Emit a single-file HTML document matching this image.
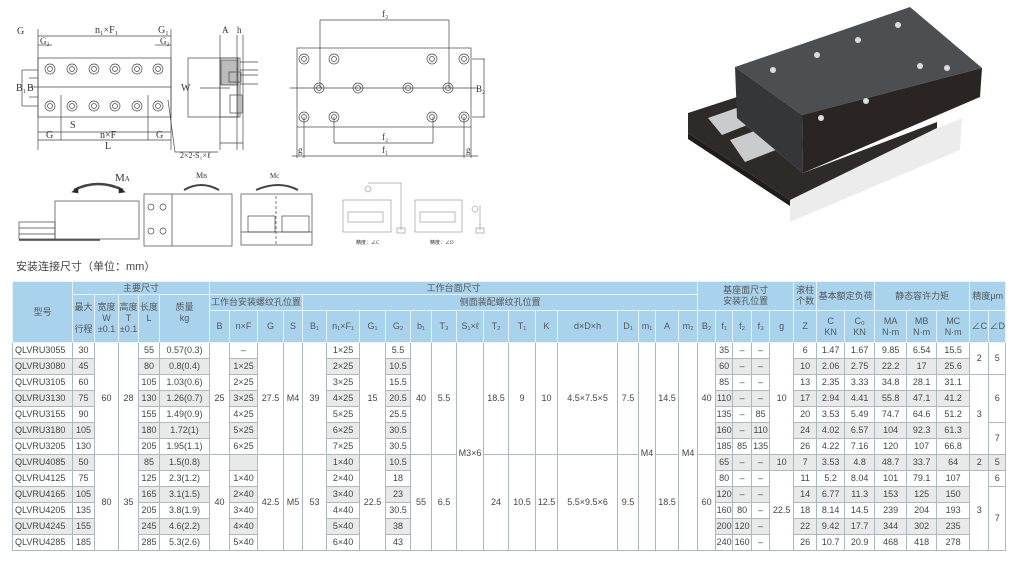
<!DOCTYPE html>
<html><head><meta charset="utf-8">
<style>
body{margin:0;width:1024px;height:561px;background:#fff;position:relative;overflow:hidden;font-family:"Liberation Sans","Noto Sans CJK SC",sans-serif;}
svg{position:absolute;left:0;top:0}
.title{position:absolute;left:16px;top:258px;font-size:11px;color:#444}
table{position:absolute;left:12px;top:281px;border-collapse:collapse;table-layout:fixed;width:993px;font-size:9px;color:#444}
td{border:1px solid #a9b9c4;padding:0;text-align:center;white-space:nowrap;overflow:hidden;height:15px;line-height:15px;background:#fff}
thead td{background:#a9d3ec;border-color:#e6f2f8;line-height:11px;color:#555}
thead tr.r1 td{height:12px}
thead tr.r2 td{height:15px}
thead tr.r3 td{height:31px}
tr.g td{background:#e9e9e9}
tr.g td[rowspan]{background:#fff}
td.l{text-align:left;padding-left:2px}
td.mid{padding-top:14px}
</style></head><body>
<svg width="1024" height="561" viewBox="0 0 1024 561" font-family="Liberation Serif, serif" font-size="10" fill="none" stroke="#444" stroke-width="0.7">
<!-- drawing 1 -->
<rect x="38" y="58" width="133" height="59"/>
<line x1="38" y1="29" x2="38" y2="150"/><line x1="171" y1="29" x2="171" y2="150"/>
<line x1="38" y1="36" x2="171" y2="36"/>
<line x1="38" y1="45" x2="52" y2="45"/><line x1="155" y1="45" x2="171" y2="45"/>
<line x1="30" y1="87" x2="171" y2="87"/>
<line x1="22" y1="70" x2="38" y2="70"/><line x1="22" y1="106" x2="38" y2="106"/><line x1="22" y1="70" x2="22" y2="106"/>
<line x1="29" y1="78" x2="38" y2="78"/><line x1="29" y1="97" x2="38" y2="97"/>
<line x1="38" y1="140" x2="171" y2="140"/><line x1="61" y1="95" x2="61" y2="140"/><line x1="148" y1="95" x2="148" y2="140"/>
<line x1="38" y1="132" x2="171" y2="132"/>
<g>
<circle cx="50" cy="69" r="5"/><circle cx="72" cy="69" r="5"/><circle cx="94" cy="69" r="5"/><circle cx="115" cy="69" r="5"/><circle cx="137" cy="69" r="5"/><circle cx="158" cy="69" r="5"/>
<circle cx="50" cy="106" r="5"/><circle cx="72" cy="106" r="5"/><circle cx="94" cy="106" r="5"/><circle cx="115" cy="106" r="5"/><circle cx="137" cy="106" r="5"/><circle cx="158" cy="106" r="5"/>
<circle cx="50" cy="69" r="2.5"/><circle cx="72" cy="69" r="2.5"/><circle cx="94" cy="69" r="2.5"/><circle cx="115" cy="69" r="2.5"/><circle cx="137" cy="69" r="2.5"/><circle cx="158" cy="69" r="2.5"/>
<circle cx="50" cy="106" r="2.5"/><circle cx="72" cy="106" r="2.5"/><circle cx="94" cy="106" r="2.5"/><circle cx="115" cy="106" r="2.5"/><circle cx="137" cy="106" r="2.5"/><circle cx="158" cy="106" r="2.5"/>
</g>
<line x1="175" y1="152" x2="218" y2="152"/><line x1="175" y1="152" x2="168" y2="100"/>
<!-- drawing 2 -->
<rect x="188" y="58" width="50" height="59"/>
<rect x="220" y="58" width="20" height="59"/><rect x="221" y="60" width="17" height="25" fill="#bbb"/>
<rect x="229" y="72" width="12" height="10"/><rect x="230" y="95" width="12" height="18"/>
<line x1="220" y1="35" x2="220" y2="150"/><line x1="237" y1="35" x2="237" y2="150"/><line x1="243" y1="35" x2="243" y2="150"/>
<line x1="220" y1="143" x2="243" y2="143"/><line x1="200" y1="88" x2="230" y2="88"/>
<line x1="240" y1="62" x2="258" y2="62"/><line x1="240" y1="70" x2="258" y2="70"/><line x1="240" y1="75" x2="258" y2="75"/><line x1="240" y1="84" x2="258" y2="84"/>
<!-- drawing 3 -->
<rect x="297" y="48" width="174" height="79"/>
<line x1="320" y1="20" x2="449" y2="20"/><line x1="320" y1="20" x2="320" y2="88"/><line x1="449" y1="20" x2="449" y2="88"/>
<line x1="290" y1="88" x2="478" y2="88"/>
<line x1="472" y1="59" x2="485" y2="59"/><line x1="472" y1="117" x2="485" y2="117"/><line x1="484" y1="59" x2="484" y2="117"/>
<line x1="334" y1="117" x2="334" y2="143"/><line x1="433" y1="117" x2="433" y2="143"/><line x1="334" y1="143" x2="433" y2="143"/>
<line x1="292" y1="156" x2="478" y2="156"/><line x1="304" y1="117" x2="304" y2="158"/><line x1="464" y1="117" x2="464" y2="158"/>
<line x1="297" y1="127" x2="297" y2="158"/><line x1="471" y1="127" x2="471" y2="158"/>
<g>
<circle cx="304" cy="59" r="5"/><circle cx="334" cy="59" r="5"/><circle cx="432" cy="59" r="5"/><circle cx="464" cy="59" r="5"/>
<circle cx="319" cy="88" r="5"/><circle cx="358" cy="88" r="5"/><circle cx="408" cy="88" r="5"/><circle cx="448" cy="88" r="5"/>
<circle cx="304" cy="117" r="5"/><circle cx="334" cy="117" r="5"/><circle cx="432" cy="117" r="5"/><circle cx="464" cy="117" r="5"/>
<circle cx="304" cy="59" r="2.5"/><circle cx="334" cy="59" r="2.5"/><circle cx="432" cy="59" r="2.5"/><circle cx="464" cy="59" r="2.5"/>
<circle cx="319" cy="88" r="2.5"/><circle cx="358" cy="88" r="2.5"/><circle cx="408" cy="88" r="2.5"/><circle cx="448" cy="88" r="2.5"/>
<circle cx="304" cy="117" r="2.5"/><circle cx="334" cy="117" r="2.5"/><circle cx="432" cy="117" r="2.5"/><circle cx="464" cy="117" r="2.5"/>
</g>
<!-- bottom drawings -->
<path d="M74 190 Q98 178 123 190" stroke-width="2.5"/><path d="M72 192 l6 -5 l0 6z M125 192 l-6 -5 l0 6z" fill="#222"/>
<rect x="55" y="201" width="84" height="38"/>
<rect x="19" y="222" width="36" height="17"/><line x1="19" y1="228" x2="55" y2="228"/><line x1="19" y1="234" x2="55" y2="234"/><line x1="19" y1="240" x2="100" y2="240" stroke-width="1.5"/>
<path d="M184 190 Q201 180 219 190" stroke-width="2"/>
<rect x="144" y="194" width="88" height="52"/><line x1="172" y1="194" x2="172" y2="246"/>
<circle cx="151" cy="207" r="3"/><circle cx="163" cy="207" r="3"/><circle cx="151" cy="231" r="3"/><circle cx="163" cy="231" r="3"/>
<path d="M256 190 Q279 180 298 190" stroke-width="2"/>
<rect x="241" y="194" width="71" height="51"/><line x1="241" y1="232" x2="312" y2="232"/>
<rect x="248" y="216" width="27" height="16"/><rect x="282" y="216" width="27" height="16"/><line x1="276" y1="196" x2="276" y2="245" stroke-dasharray="3 2"/>
<g stroke="#777" stroke-width="0.5">
<rect x="343" y="200" width="48" height="32"/><rect x="348" y="212" width="35" height="10"/>
<line x1="368" y1="183" x2="401" y2="183"/><line x1="401" y1="183" x2="401" y2="230"/><rect x="397" y="228" width="8" height="5"/><circle cx="368" cy="189" r="3"/>
<rect x="415" y="200" width="47" height="32"/><rect x="420" y="212" width="35" height="10"/>
<circle cx="475" cy="209" r="3"/><line x1="480" y1="205" x2="480" y2="230"/><rect x="476" y="228" width="8" height="5"/>
</g>
<g fill="#333" stroke="none">
<text x="17" y="34">G</text><text x="95" y="33">n₁×F₁</text><text x="158" y="33">G₁</text>
<text x="40" y="44" font-size="9">G₂</text><text x="160" y="44" font-size="9">G₂</text>
<text x="16" y="91">B₁</text><text x="27" y="91">B</text><text x="70" y="128">S</text>
<text x="46" y="138">G</text><text x="100" y="138">n×F</text><text x="156" y="138">G</text><text x="105" y="149">L</text>
<text x="180" y="158" font-size="8">2×2-S₁×ℓ</text>
<text x="181" y="91">W</text><text x="222" y="33" font-size="9">A</text><text x="237" y="33" font-size="9">h</text>
<text x="382" y="17" font-size="9">f₃</text><text x="476" y="92" font-size="9">B₂</text>
<text x="382" y="140" font-size="9">f₂</text><text x="382" y="153" font-size="9">f₁</text>
<text x="298" y="153" font-size="9">g</text><text x="466" y="153" font-size="9">g</text>
<text x="115" y="181" font-size="11">M<tspan font-size="7">A</tspan></text>
<text x="196" y="178" font-size="8">M<tspan font-size="6">B</tspan></text>
<text x="270" y="178" font-size="7">Mc</text>
<text x="356" y="244" font-size="5">精度：∠C</text><text x="430" y="244" font-size="5">精度：∠D</text>
</g>
<!-- photo -->
<polygon points="690,135 790,200 790,222 960,150 962,118 790,190" fill="#ececec" stroke="none"/>
<polygon points="688,113 737,97 737,118 803,173 937,122 937,128 790,200 688,133" fill="#2e2a28" stroke="none"/>
<polygon points="688,133 790,200 790,206 688,139" fill="#201c1a" stroke="none"/>
<polygon points="708,118 745,105 760,120 722,135" fill="#c8cccc" stroke="none"/>
<polygon points="730,140 768,126 786,146 745,162" fill="#c8cccc" stroke="none"/>
<polygon points="735,67 910,7 982,68 802,115" fill="#4b4f52" stroke="none"/>
<polygon points="735,67 802,115 803,173 737,118" fill="#34363a" stroke="none"/>
<polygon points="802,115 982,68 980,97 803,173" fill="#2a2523" stroke="none"/>
<g fill="#ddd" stroke="none">
<circle cx="773" cy="70" r="3"/><circle cx="817" cy="55" r="3"/><circle cx="858" cy="40" r="3"/><circle cx="898" cy="25" r="3"/>
<circle cx="920" cy="66" r="3"/><circle cx="947" cy="68" r="3"/><circle cx="866" cy="101" r="3"/><circle cx="821" cy="118" r="3"/>
</g>
</svg>
<div class="title">安装连接尺寸（单位：mm）</div>
<table>
<colgroup>
<col style="width:60px"><col style="width:22px"><col style="width:24px"><col style="width:20px"><col style="width:21px"><col style="width:50px"><col style="width:20px"><col style="width:28px"><col style="width:26px"><col style="width:19px"><col style="width:24px"><col style="width:33px"><col style="width:26px"><col style="width:25px"><col style="width:21px"><col style="width:25px"><col style="width:27px"><col style="width:25px"><col style="width:27px"><col style="width:22px"><col style="width:60px"><col style="width:21px"><col style="width:17px"><col style="width:23px"><col style="width:19px"><col style="width:18px"><col style="width:17px"><col style="width:19px"><col style="width:18px"><col style="width:24px"><col style="width:23px"><col style="width:28px"><col style="width:30px"><col style="width:32px"><col style="width:30px"><col style="width:33px"><col style="width:19px"><col style="width:17px">
</colgroup>
<thead>
<tr class="r1"><td rowspan="3">型号</td><td colspan="5">主要尺寸</td><td colspan="19">工作台面尺寸</td><td colspan="5" rowspan="2">基座面尺寸<br>安装孔位置</td><td rowspan="2">滚柱<br>个数</td><td colspan="2" rowspan="2">基本额定负荷</td><td colspan="3" rowspan="2">静态容许力矩</td><td colspan="2" rowspan="2">精度μm</td></tr>
<tr class="r2"><td rowspan="2">最大<br><br>行程</td><td rowspan="2">宽度<br>W<br>±0.1</td><td rowspan="2">高度<br>T<br>±0.1</td><td rowspan="2">长度<br>L<br>&nbsp;</td><td rowspan="2">质量<br>kg<br>&nbsp;</td><td colspan="4">工作台安装螺纹孔位置</td><td colspan="15">侧面装配螺纹孔位置</td></tr>
<tr class="r3"><td>B</td><td>n×F</td><td>G</td><td>S</td><td>B₁</td><td>n₁×F₁</td><td>G₁</td><td>G₂</td><td>b₁</td><td>T₃</td><td>S₁×ℓ</td><td>T₂</td><td>T₁</td><td>K</td><td>d×D×h</td><td>D₁</td><td>m₁</td><td>A</td><td>m₂</td><td>B₂</td><td>f₁</td><td>f₂</td><td>f₃</td><td>g</td><td>Z</td><td>C<br>KN</td><td>C₀<br>KN</td><td>MA<br>N·m</td><td>MB<br>N·m</td><td>MC<br>N·m</td><td>∠C</td><td>∠D</td></tr>
</thead>
<tbody>
<tr><td class="l">QLVRU3055</td><td>30</td><td rowspan="7">60</td><td rowspan="7">28</td><td>55</td><td>0.57(0.3)</td><td rowspan="7">25</td><td>–</td><td rowspan="7">27.5</td><td rowspan="7">M4</td><td rowspan="7">39</td><td>1×25</td><td rowspan="7">15</td><td>5.5</td><td rowspan="7">40</td><td rowspan="7">5.5</td><td rowspan="13" class="mid">M3×6</td><td rowspan="7">18.5</td><td rowspan="7">9</td><td rowspan="7">10</td><td rowspan="7">4.5×7.5×5</td><td rowspan="7">7.5</td><td rowspan="13" class="mid">M4</td><td rowspan="7">14.5</td><td rowspan="13" class="mid">M4</td><td rowspan="7">40</td><td>35</td><td>–</td><td>–</td><td rowspan="7">10</td><td>6</td><td>1.47</td><td>1.67</td><td>9.85</td><td>6.54</td><td>15.5</td><td rowspan="2">2</td><td rowspan="2">5</td></tr>
<tr class="g"><td class="l">QLVRU3080</td><td>45</td><td>80</td><td>0.8(0.4)</td><td>1×25</td><td>2×25</td><td>10.5</td><td>60</td><td>–</td><td>–</td><td>10</td><td>2.06</td><td>2.75</td><td>22.2</td><td>17</td><td>25.6</td></tr>
<tr><td class="l">QLVRU3105</td><td>60</td><td>105</td><td>1.03(0.6)</td><td>2×25</td><td>3×25</td><td>15.5</td><td>85</td><td>–</td><td>–</td><td>13</td><td>2.35</td><td>3.33</td><td>34.8</td><td>28.1</td><td>31.1</td><td rowspan="5">3</td><td rowspan="3">6</td></tr>
<tr class="g"><td class="l">QLVRU3130</td><td>75</td><td>130</td><td>1.26(0.7)</td><td>3×25</td><td>4×25</td><td>20.5</td><td>110</td><td>–</td><td>–</td><td>17</td><td>2.94</td><td>4.41</td><td>55.8</td><td>47.1</td><td>41.2</td></tr>
<tr><td class="l">QLVRU3155</td><td>90</td><td>155</td><td>1.49(0.9)</td><td>4×25</td><td>5×25</td><td>25.5</td><td>135</td><td>–</td><td>85</td><td>20</td><td>3.53</td><td>5.49</td><td>74.7</td><td>64.6</td><td>51.2</td></tr>
<tr class="g"><td class="l">QLVRU3180</td><td>105</td><td>180</td><td>1.72(1)</td><td>5×25</td><td>6×25</td><td>30.5</td><td>160</td><td>–</td><td>110</td><td>24</td><td>4.02</td><td>6.57</td><td>104</td><td>92.3</td><td>61.3</td><td rowspan="2">7</td></tr>
<tr><td class="l">QLVRU3205</td><td>130</td><td>205</td><td>1.95(1.1)</td><td>6×25</td><td>7×25</td><td>30.5</td><td>185</td><td>85</td><td>135</td><td>26</td><td>4.22</td><td>7.16</td><td>120</td><td>107</td><td>66.8</td></tr>
<tr class="g"><td class="l">QLVRU4085</td><td>50</td><td rowspan="6">80</td><td rowspan="6">35</td><td>85</td><td>1.5(0.8)</td><td rowspan="6">40</td><td></td><td rowspan="6">42.5</td><td rowspan="6">M5</td><td rowspan="6">53</td><td>1×40</td><td rowspan="6">22.5</td><td>10.5</td><td rowspan="6">55</td><td rowspan="6">6.5</td><td rowspan="6">24</td><td rowspan="6">10.5</td><td rowspan="6">12.5</td><td rowspan="6">5.5×9.5×6</td><td rowspan="6">9.5</td><td rowspan="6">18.5</td><td rowspan="6">60</td><td>65</td><td>–</td><td>–</td><td>10</td><td>7</td><td>3.53</td><td>4.8</td><td>48.7</td><td>33.7</td><td>64</td><td>2</td><td>5</td></tr>
<tr><td class="l">QLVRU4125</td><td>75</td><td>125</td><td>2.3(1.2)</td><td>1×40</td><td>2×40</td><td>18</td><td>80</td><td>–</td><td>–</td><td rowspan="5">22.5</td><td>11</td><td>5.2</td><td>8.04</td><td>101</td><td>79.1</td><td>107</td><td rowspan="5">3</td><td>6</td></tr>
<tr class="g"><td class="l">QLVRU4165</td><td>105</td><td>165</td><td>3.1(1.5)</td><td>2×40</td><td>3×40</td><td>23</td><td>120</td><td>–</td><td>–</td><td>14</td><td>6.77</td><td>11.3</td><td>153</td><td>125</td><td>150</td><td rowspan="4">7</td></tr>
<tr><td class="l">QLVRU4205</td><td>135</td><td>205</td><td>3.8(1.9)</td><td>3×40</td><td>4×40</td><td>30.5</td><td>160</td><td>80</td><td>–</td><td>18</td><td>8.14</td><td>14.5</td><td>239</td><td>204</td><td>193</td></tr>
<tr class="g"><td class="l">QLVRU4245</td><td>155</td><td>245</td><td>4.6(2.2)</td><td>4×40</td><td>5×40</td><td>38</td><td>200</td><td>120</td><td>–</td><td>22</td><td>9.42</td><td>17.7</td><td>344</td><td>302</td><td>235</td></tr>
<tr><td class="l">QLVRU4285</td><td>185</td><td>285</td><td>5.3(2.6)</td><td>5×40</td><td>6×40</td><td>43</td><td>240</td><td>160</td><td>–</td><td>26</td><td>10.7</td><td>20.9</td><td>468</td><td>418</td><td>278</td></tr>
</tbody>
</table>
</body></html>
